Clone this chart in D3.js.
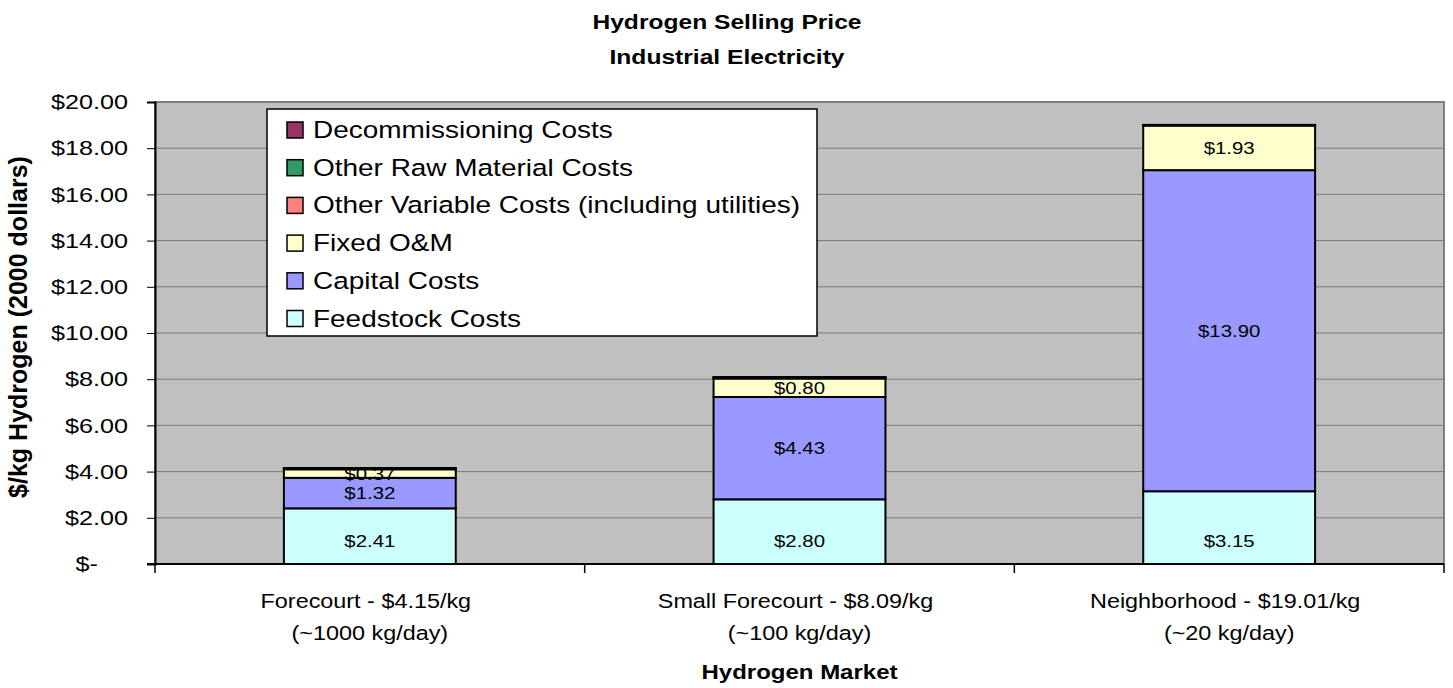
<!DOCTYPE html>
<html lang="en">
  <head>
    <meta charset="utf-8" />
    <title>Hydrogen Selling Price – Industrial Electricity</title>
    <style>
      body {
        margin: 0;
        background: #fff;
        font-family: 'Liberation Sans', Arial, sans-serif;
      }
      text {
        font-family: 'Liberation Sans', Arial, sans-serif;
        fill: #000;
      }
      .grid line {
        stroke: #7a7a7a;
        stroke-width: 1;
      }
      .seg {
        stroke: #000;
        stroke-width: 2;
      }
    </style>
    <script src="https://d3js.org/d3.v7.min.js"></script>
  </head>

  <body>
    <svg width="1453" height="688"></svg>

    <script>
      // categories (two-line tick labels)
      const markets = [
        ['Forecourt - $4.15/kg', '(~1000 kg/day)'],
        ['Small Forecourt - $8.09/kg', '(~100 kg/day)'],
        ['Neighborhood - $19.01/kg', '(~20 kg/day)'],
      ];

      // stacked series, bottom to top
      const seriesNames = [
        'Feedstock Costs',
        'Capital Costs',
        'Fixed O&M',
        'Other Variable Costs (including utilities)',
        'Other Raw Material Costs',
        'Decommissioning Costs',
      ];
      const feedstock = [2.41, 2.8, 3.15];
      const capital = [1.32, 4.43, 13.9];
      const fixedOM = [0.37, 0.8, 1.93];
      const otherVariable = [0.03, 0.04, 0.02];
      const otherRaw = [0.01, 0.01, 0.0];
      const decommissioning = [0.01, 0.01, 0.01];
      const labelled = [true, true, true, false, false, false];

      const yTicks = [0, 2, 4, 6, 8, 10, 12, 14, 16, 18, 20];
      const colors = [
        '#CCFFFF',
        '#9999FF',
        '#FFFFCC',
        '#FF8080',
        '#339966',
        '#993366',
      ];

      const values = [
        feedstock,
        capital,
        fixedOM,
        otherVariable,
        otherRaw,
        decommissioning,
      ];

      // the original text is drawn a little wide
      const SX = 1.2;

      const svg = d3.select('svg');
      const plot = { left: 155, right: 1444, top: 102, bottom: 564 };

      function label(parent, x, y, txt, size, bold, anchor) {
        return parent
          .append('text')
          .attr('transform', `translate(${x},${y}) scale(${SX},1)`)
          .attr('text-anchor', anchor || 'middle')
          .attr('font-size', size)
          .attr('font-weight', bold ? 'bold' : null)
          .text(txt);
      }

      const x = d3
        .scaleBand()
        .domain(d3.range(markets.length))
        .range([plot.left, plot.right])
        .paddingInner(0.6)
        .paddingOuter(0.3);
      const xCat = d3
        .scaleBand()
        .domain(d3.range(markets.length))
        .range([plot.left, plot.right]);
      const y = d3
        .scaleLinear()
        .domain([0, 20])
        .range([plot.bottom, plot.top]);

      // plot background
      svg
        .append('rect')
        .attr('x', plot.left)
        .attr('y', plot.top)
        .attr('width', plot.right - plot.left)
        .attr('height', plot.bottom - plot.top)
        .attr('fill', '#C0C0C0')
        .attr('stroke', '#808080')
        .attr('stroke-width', 2);

      // gridlines
      svg
        .append('g')
        .attr('class', 'grid')
        .selectAll('line')
        .data(yTicks.filter((d) => d > 0))
        .enter()
        .append('line')
        .attr('x1', plot.left)
        .attr('x2', plot.right)
        .attr('y1', (d) => y(d))
        .attr('y2', (d) => y(d));

      // stack
      const rows = markets.map((m, i) => {
        const r = {};
        seriesNames.forEach((s, j) => (r[s] = values[j][i]));
        r.idx = i;
        return r;
      });
      const stacked = d3.stack().keys(seriesNames)(rows);

      const layers = svg
        .append('g')
        .selectAll('g')
        .data(stacked)
        .enter()
        .append('g')
        .attr('fill', (d, j) => colors[j]);

      layers
        .selectAll('rect')
        .data((d) => d)
        .enter()
        .append('rect')
        .attr('class', 'seg')
        .attr('x', (d) => x(d.data.idx))
        .attr('width', x.bandwidth())
        .attr('y', (d) => y(d[1]))
        .attr('height', (d) => Math.max(0, y(d[0]) - y(d[1])));

      // value labels (bottom series sits low in its segment, as in the original)
      const lblG = svg.append('g');
      stacked.forEach((layer, j) => {
        if (!labelled[j]) return;
        layer.forEach((d) => {
          const mid = j === 0 ? y(d[0]) - 23 : y((d[0] + d[1]) / 2);
          label(
            lblG,
            x(d.data.idx) + x.bandwidth() / 2,
            mid + 6,
            '$' + (d[1] - d[0]).toFixed(2),
            17,
          );
        });
      });

      // y axis
      const yAxis = d3
        .axisLeft(y)
        .tickValues(yTicks)
        .tickSize(8)
        .tickPadding(19)
        .tickFormat((d) => (d === 0 ? '$-' : '$' + d.toFixed(2)));
      const ya = svg
        .append('g')
        .attr('transform', `translate(${plot.left},0)`)
        .call(yAxis);
      ya.select('.domain').attr('stroke', '#000').attr('stroke-width', 2);
      ya.selectAll('line').attr('stroke', '#000');
      ya.selectAll('text')
        .attr('font-size', 21)
        .attr('font-family', "'Liberation Sans', Arial, sans-serif")
        .attr('fill', '#000')
        .attr('transform', (d) => {
          const off = d === 0 ? -27 - 30 : -27;
          return `translate(${off},0) scale(${SX},1)`;
        })
        .attr('x', 0);

      // x axis line + category boundary ticks
      const xa = svg.append('g');
      xa.append('line')
        .attr('x1', plot.left - 8)
        .attr('x2', plot.right)
        .attr('y1', plot.bottom)
        .attr('y2', plot.bottom)
        .attr('stroke', '#000')
        .attr('stroke-width', 2);
      xa.selectAll('line.tk')
        .data(d3.range(markets.length + 1))
        .enter()
        .append('line')
        .attr('class', 'tk')
        .attr('x1', (i) => (i < markets.length ? xCat(i) : plot.right))
        .attr('x2', (i) => (i < markets.length ? xCat(i) : plot.right))
        .attr('y1', plot.bottom)
        .attr('y2', plot.bottom + 9)
        .attr('stroke', '#000')
        .attr('stroke-width', 1.5);

      markets.forEach((m, i) => {
        const cxm = xCat(i) + xCat.bandwidth() / 2;
        label(xa, cxm - 4, 608, m[0], 19.5);
        label(xa, cxm, 640, m[1], 19.5);
      });

      // titles
      const cx = (plot.left + plot.right) / 2;
      label(svg, 727, 29, 'Hydrogen Selling Price', 20.5, true);
      label(svg, 727, 64, 'Industrial Electricity', 20.5, true);
      label(svg, cx, 679, 'Hydrogen Market', 20, true);
      svg
        .append('text')
        .attr('transform', `translate(27,327) rotate(-90)`)
        .attr('text-anchor', 'middle')
        .attr('font-size', 25)
        .attr('font-weight', 'bold')
        .text('$/kg Hydrogen (2000 dollars)');

      // legend (top series first)
      const lg = svg.append('g').attr('transform', 'translate(267,109)');
      lg.append('rect')
        .attr('width', 550)
        .attr('height', 227)
        .attr('fill', '#fff')
        .attr('stroke', '#000')
        .attr('stroke-width', 1.5);
      const order = d3.range(seriesNames.length).reverse();
      order.forEach((j, k) => {
        const item = lg
          .append('g')
          .attr('transform', `translate(20,${21 + k * 37.7})`);
        item
          .append('rect')
          .attr('x', 0)
          .attr('y', -8)
          .attr('width', 16)
          .attr('height', 16)
          .attr('fill', colors[j])
          .attr('stroke', '#000')
          .attr('stroke-width', 1.5);
        label(item, 26, 8, seriesNames[j], 23.3, false, 'start');
      });
    </script>
  </body>
</html>
